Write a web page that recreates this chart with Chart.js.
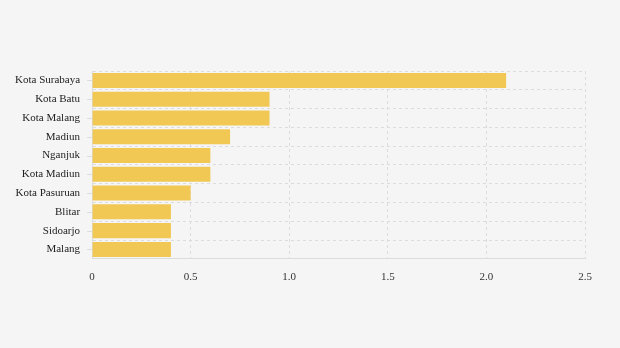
<!DOCTYPE html>
<html>
<head>
<meta charset="utf-8">
<script src="https://cdn.jsdelivr.net/npm/chart.js@4"></script>
<style>
  html,body{margin:0;padding:0;background:#f5f5f5;}
  #wrap{width:620px;height:348px;position:relative;}
</style>
</head>
<body>
<div id="wrap"><canvas id="c"></canvas></div>
<script>
const regions = ["Kota Surabaya","Kota Batu","Kota Malang","Madiun","Nganjuk","Kota Madiun","Kota Pasuruan","Blitar","Sidoarjo","Malang"];
const values = [2.1,0.9,0.9,0.7,0.6,0.6,0.5,0.4,0.4,0.4];
const xTicks = [0,0.5,1.0,1.5,2.0,2.5];

const font = {family:"'Liberation Serif','DejaVu Serif',serif", size:11};
const gridCol = "#dcdcdc";

// short tick marks at the centre of each category
const yTickMarks = {
  id:"yTickMarks",
  afterDraw(chart){
    const y = chart.scales.y, ctx = chart.ctx;
    ctx.save();
    ctx.strokeStyle = gridCol;
    ctx.lineWidth = 1;
    y.ticks.forEach((t,i)=>{
      const py = Math.round(y.getPixelForTick(i))+0.5;
      ctx.beginPath();
      ctx.moveTo(y.right-5,py);
      ctx.lineTo(y.right,py);
      ctx.stroke();
    });
    ctx.restore();
  }
};

new Chart(document.getElementById("c"),{
  type:"bar",
  data:{labels:regions,datasets:[{
    data:values,
    backgroundColor:"#f1c853",
    barPercentage:0.8,
    categoryPercentage:1
  }]},
  options:{
    indexAxis:"y",
    responsive:true,
    maintainAspectRatio:false,
    animation:false,
    layout:{padding:{top:71,right:35,bottom:52,left:3}},
    plugins:{legend:{display:false},tooltip:{enabled:false}},
    scales:{
      x:{
        min:0,max:2.5,
        afterBuildTicks:(s)=>{s.ticks=xTicks.map(v=>({value:v}));},
        ticks:{font:font,color:"#333",padding:12,
          callback:(v)=>v===0?"0":(v%1===0?v.toFixed(1):String(v))},
        grid:{color:gridCol,drawTicks:false,tickLength:0},
        border:{display:true,color:gridCol,dash:[3,3]}
      },
      y:{
        ticks:{font:font,color:"#222",padding:12},
        grid:{offset:true,color:gridCol,drawTicks:false},
        border:{display:true,color:gridCol,dash:[3,3]}
      }
    }
  },
  plugins:[yTickMarks]
});
</script>
</body>
</html>
